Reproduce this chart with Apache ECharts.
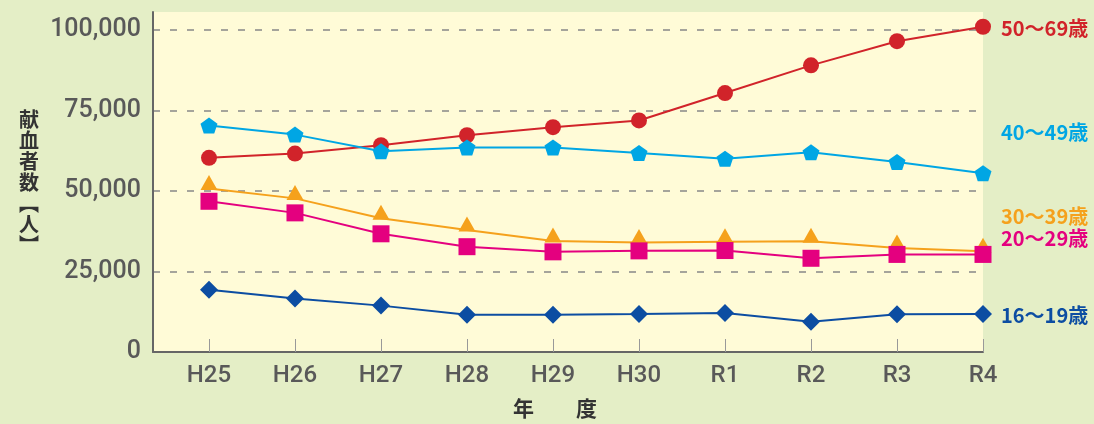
<!DOCTYPE html>
<html>
<head>
<meta charset="utf-8">
<script src="https://cdn.jsdelivr.net/npm/echarts@6/dist/echarts.min.js"></script>
<style>
html,body{margin:0;padding:0;background:#E4EEC6;}
#chart{width:1094px;height:424px;}
</style>
</head>
<body>
<div id="chart"></div>
<script>
const categories = ['H25','H26','H27','H28','H29','H30','R1','R2','R3','R4'];
const yTicks = [0, 25000, 50000, 75000, 100000];
const seriesNames = ['50～69歳','40～49歳','30～39歳','20～29歳','16～19歳'];
const age50_69 = [60300, 61600, 64200, 67300, 69800, 71900, 80400, 89000, 96500, 101000];
const age40_49 = [70300, 67500, 62300, 63500, 63500, 61800, 60000, 62000, 59000, 55500];
const age30_39 = [50800, 47700, 41500, 37900, 34500, 34000, 34200, 34400, 32300, 31300];
const age20_29 = [46800, 43200, 36700, 32700, 31100, 31400, 31500, 29100, 30300, 30300];
const age16_19 = [19300, 16600, 14400, 11600, 11600, 11800, 12100, 9400, 11700, 11800];

const pairs = arr => arr.map((v, i) => [i, v]);
const pentagon = 'path://M0,-10 L9.511,-3.09 L5.878,8.09 L-5.878,8.09 L-9.511,-3.09 Z';

const chart = echarts.init(document.getElementById('chart'), null, {renderer: 'canvas'});

function mkSeries(name, data, color, symbol, size, dy, extra) {
  return Object.assign({
    name: name,
    type: 'line',
    data: pairs(data),
    symbol: symbol,
    symbolSize: size,
    showAllSymbol: true,
    lineStyle: {color: color, width: 2},
    itemStyle: {color: color},
    emphasis: {disabled: true},
    animation: false,
    endLabel: {
      show: true,
      formatter: name,
      color: color,
      fontSize: 20,
      fontWeight: 'bold',
      fontFamily: '"Noto Sans CJK JP", sans-serif',
      distance: 5,
      offset: [13, dy]
    }
  }, extra || {});
}

chart.setOption({
  backgroundColor: '#E4EEC6',
  animation: false,
  grid: {
    left: 153, right: 111, top: 12, bottom: 71,
    show: true,
    backgroundColor: '#FFFBD7',
    borderWidth: 0,
    containLabel: false
  },
  xAxis: {
    type: 'value',
    min: -0.651,
    max: 9,
    name: '年　　度',
    nameLocation: 'middle',
    nameGap: 46,
    nameTextStyle: {
      color: '#333', fontSize: 21, fontWeight: 'bold',
      fontFamily: '"Noto Sans CJK JP", sans-serif',
      padding: [0, 26, 0, 0]
    },
    axisLine: {show: true, onZero: false, lineStyle: {color: '#666', width: 2}},
    axisTick: {
      show: true, inside: true, length: 13,
      customValues: categories.map((c, i) => i),
      lineStyle: {color: '#999', width: 1}
    },
    axisLabel: {
      show: true,
      customValues: categories.map((c, i) => i),
      formatter: v => categories[Math.round(v)],
      color: '#595959', fontSize: 24, fontWeight: 500, margin: 12,
      fontFamily: 'Roboto, "Noto Sans", sans-serif'
    },
    splitLine: {show: false}
  },
  yAxis: {
    type: 'value',
    min: 0,
    max: 105570,
    interval: 25000,
    name: '献\n血\n者\n数\n︻\n人\n︼',
    nameLocation: 'middle',
    nameRotate: 0,
    nameGap: 114,
    nameTextStyle: {
      color: '#333', fontSize: 20, fontWeight: 'bold', lineHeight: 21,
      fontFamily: '"Noto Sans CJK JP", sans-serif'
    },
    axisLine: {show: true, onZero: false, lineStyle: {color: '#666', width: 2}},
    axisTick: {show: false},
    axisLabel: {
      color: '#595959', fontSize: 25, fontWeight: 500, margin: 12,
      showMaxLabel: false,
      fontFamily: 'Roboto, "Noto Sans", sans-serif',
      formatter: v => yTicks.indexOf(v) >= 0 ? v.toLocaleString('en-US') : ''
    },
    splitLine: {
      show: true, showMinLine: false, showMaxLine: false,
      lineStyle: {color: '#888', width: 1.5, type: [7, 10]}
    }
  },
  series: [
    mkSeries(seriesNames[0], age50_69, '#D1232A', 'circle', 16, 2),
    mkSeries(seriesNames[1], age40_49, '#00A6E4', pentagon, [17, 16], -41),
    mkSeries(seriesNames[2], age30_39, '#F5A11C', 'triangle', [17, 15], -35, {symbolOffset: [0, -6]}),
    mkSeries(seriesNames[3], age20_29, '#E4007F', 'rect', 17, -16),
    mkSeries(seriesNames[4], age16_19, '#0C4DA2', 'diamond', [18, 18], 1)
  ]
});
</script>
</body>
</html>
